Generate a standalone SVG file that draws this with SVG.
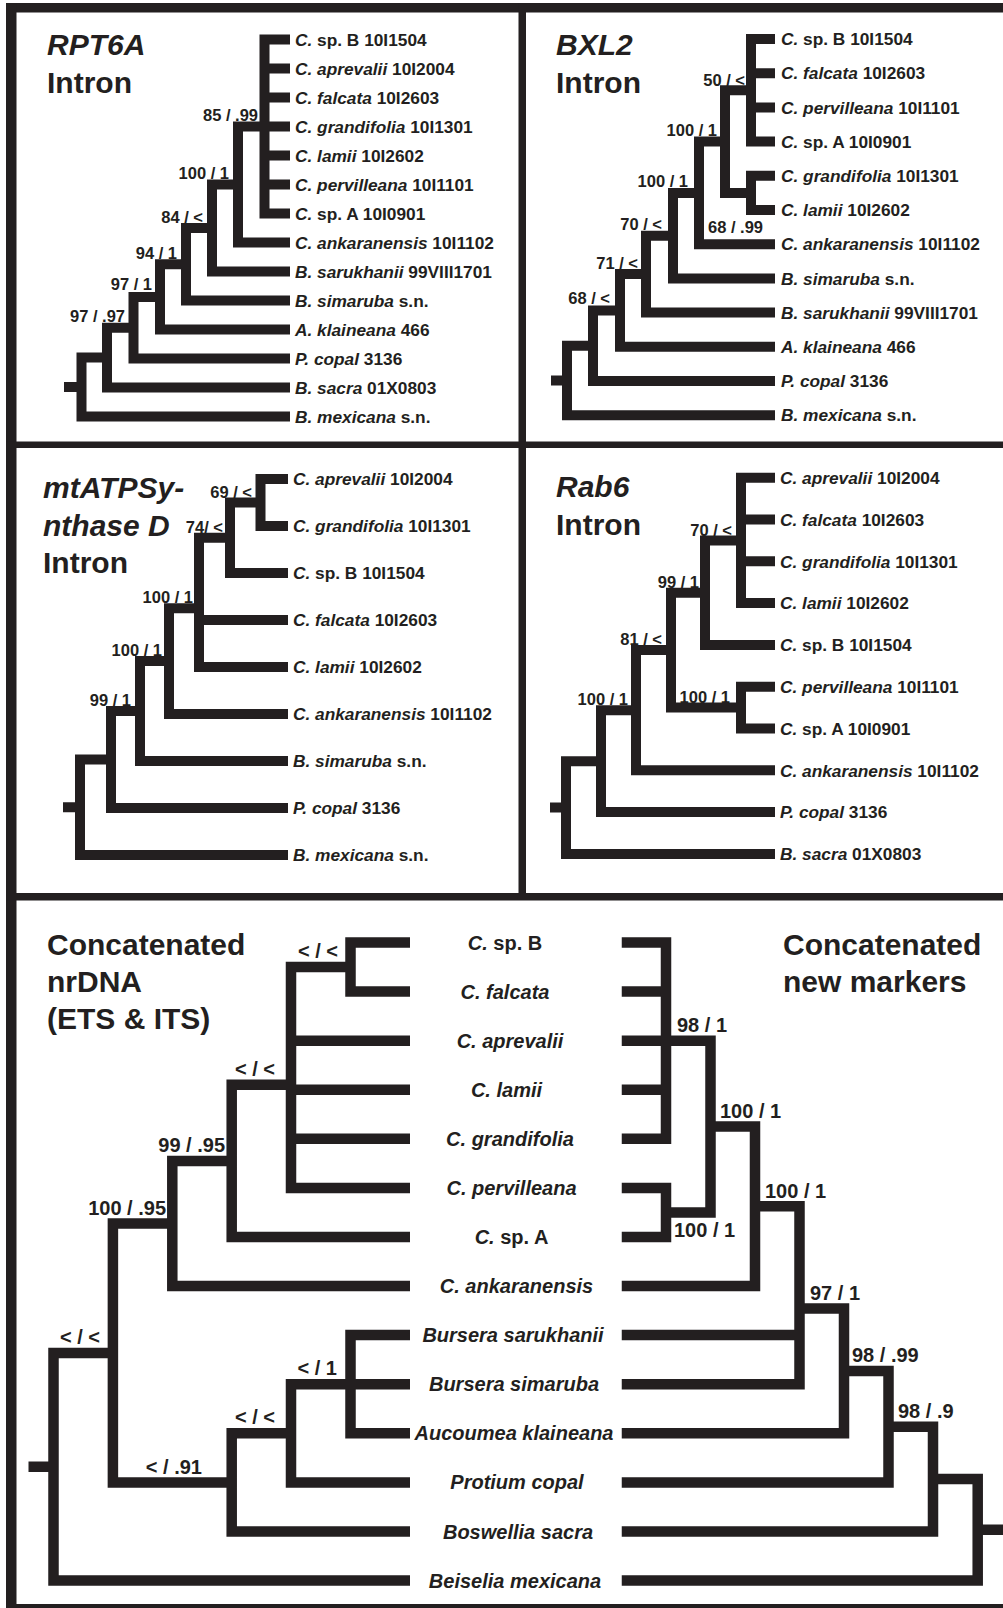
<svg xmlns="http://www.w3.org/2000/svg" width="1003" height="1608" viewBox="0 0 1003 1608">
<style>
.ln{fill:none;stroke:#231f20;stroke-width:10;stroke-linecap:square;stroke-linejoin:miter}
.lb{stroke-width:10.5}
.bd{fill:#231f20}
text{font-family:"Liberation Sans",Arial,Helvetica,sans-serif;font-weight:bold;fill:#231f20}
.tip{font-size:17.3px}
.nl{font-size:16.5px}
.ttl{font-size:30px}
.bt{font-size:20px;font-style:italic;text-anchor:middle}
.bn{font-size:20px}
.i{font-style:italic}
.r{font-style:normal}
.e{text-anchor:end}
</style>
<rect width="1003" height="1608" fill="#fff"/>
<g id="frame">
<rect class="bd" x="6" y="3" width="1000" height="9.5"/>
<rect class="bd" x="6" y="3" width="10.5" height="1610"/>
<rect class="bd" x="6" y="1604" width="1000" height="10"/>
<rect class="bd" x="518.5" y="3" width="7.5" height="895"/>
<rect class="bd" x="6" y="441.5" width="1000" height="6.5"/>
<rect class="bd" x="6" y="893" width="1000" height="7.5"/>
</g>

<g id="panel-rpt6a">
<text class="ttl i" x="47" y="55">RPT6A</text>
<text class="ttl" x="47" y="92.5">Intron</text>
<g id="rpt6a-connectors"><path class="ln" d="M264.5 39.5V213.5M264.5 39.5H285M264.5 68.5H285M264.5 97.5H285M264.5 126.5H285M264.5 155.5H285M264.5 184.5H285M264.5 213.5H285M238 126.5V242.5M238 126.5H264.5M238 242.5H285M212 184.5V271.5M212 184.5H238M212 271.5H285M186 228V300.5M186 228H212M186 300.5H285M160 264.25V329.5M160 264.25H186M160 329.5H285M133.5 296.9V358.5M133.5 296.9H160M133.5 358.5H285M107 327.7V387.5M107 327.7H133.5M107 387.5H285M81.5 357.6V416.5M81.5 357.6H107M81.5 416.5H285M69 387H81.5"/></g>
<g id="rpt6a-tips" class="tip">
<text class="tip" x="295" y="45.7"><tspan class="i">C.</tspan> sp. B 10I1504</text>
<text class="tip" x="295" y="74.7"><tspan class="i">C. aprevalii</tspan> 10I2004</text>
<text class="tip" x="295" y="103.7"><tspan class="i">C. falcata</tspan> 10I2603</text>
<text class="tip" x="295" y="132.7"><tspan class="i">C. grandifolia</tspan> 10I1301</text>
<text class="tip" x="295" y="161.7"><tspan class="i">C. lamii</tspan> 10I2602</text>
<text class="tip" x="295" y="190.7"><tspan class="i">C. pervilleana</tspan> 10I1101</text>
<text class="tip" x="295" y="219.7"><tspan class="i">C.</tspan> sp. A 10I0901</text>
<text class="tip" x="295" y="248.7"><tspan class="i">C. ankaranensis</tspan> 10I1102</text>
<text class="tip" x="295" y="277.7"><tspan class="i">B. sarukhanii</tspan> 99VIII1701</text>
<text class="tip" x="295" y="306.7"><tspan class="i">B. simaruba</tspan> s.n.</text>
<text class="tip" x="295" y="335.7"><tspan class="i">A. klaineana</tspan> 466</text>
<text class="tip" x="295" y="364.7"><tspan class="i">P. copal</tspan> 3136</text>
<text class="tip" x="295" y="393.7"><tspan class="i">B. sacra</tspan> 01X0803</text>
<text class="tip" x="295" y="422.7"><tspan class="i">B. mexicana</tspan> s.n.</text>
</g>
<g id="rpt6a-support">
<text class="nl e" x="258" y="121">85 / .99</text>
<text class="nl e" x="229" y="179">100 / 1</text>
<text class="nl e" x="203" y="222.5">84 / &lt;</text>
<text class="nl e" x="177" y="258.5">94 / 1</text>
<text class="nl e" x="152" y="290">97 / 1</text>
<text class="nl e" x="125" y="321.5">97 / .97</text>
</g>
</g>

<g id="panel-bxl2">
<text class="ttl i" x="556" y="55">BXL2</text>
<text class="ttl" x="556" y="92.5">Intron</text>
<g id="bxl2-connectors"><path class="ln" d="M751 39V141.6M751 39H770M751 73.2H770M751 107.4H770M751 141.6H770M751 175.8V210M751 175.8H770M751 210H770M725 90.3V192.9M725 90.3H751M725 192.9H751M699 141.6V244.2M699 141.6H725M699 244.2H770M673 192.9V278.4M673 192.9H699M673 278.4H770M646 235.65V312.6M646 235.65H673M646 312.6H770M620 274.1V346.8M620 274.1H646M620 346.8H770M593 310.45V381M593 310.45H620M593 381H770M567 345.7V415.2M567 345.7H593M567 415.2H770M556 380.5H567"/></g>
<g id="bxl2-tips">
<text class="tip" x="781" y="45.2"><tspan class="i">C.</tspan> sp. B 10I1504</text>
<text class="tip" x="781" y="79.4"><tspan class="i">C. falcata</tspan> 10I2603</text>
<text class="tip" x="781" y="113.6"><tspan class="i">C. pervilleana</tspan> 10I1101</text>
<text class="tip" x="781" y="147.8"><tspan class="i">C.</tspan> sp. A 10I0901</text>
<text class="tip" x="781" y="182"><tspan class="i">C. grandifolia</tspan> 10I1301</text>
<text class="tip" x="781" y="216.2"><tspan class="i">C. lamii</tspan> 10I2602</text>
<text class="tip" x="781" y="250.4"><tspan class="i">C. ankaranensis</tspan> 10I1102</text>
<text class="tip" x="781" y="284.6"><tspan class="i">B. simaruba</tspan> s.n.</text>
<text class="tip" x="781" y="318.8"><tspan class="i">B. sarukhanii</tspan> 99VIII1701</text>
<text class="tip" x="781" y="353"><tspan class="i">A. klaineana</tspan> 466</text>
<text class="tip" x="781" y="387.2"><tspan class="i">P. copal</tspan> 3136</text>
<text class="tip" x="781" y="421.4"><tspan class="i">B. mexicana</tspan> s.n.</text>
</g>
<g id="bxl2-support">
<text class="nl e" x="745" y="86">50 / &lt;</text>
<text class="nl e" x="717" y="135.5">100 / 1</text>
<text class="nl e" x="688" y="187">100 / 1</text>
<text class="nl" x="708" y="233">68 / .99</text>
<text class="nl e" x="662" y="230">70 / &lt;</text>
<text class="nl e" x="638" y="268.5">71 / &lt;</text>
<text class="nl e" x="610" y="304">68 / &lt;</text>
</g>
</g>

<g id="panel-mtatp">
<text class="ttl i" x="43" y="497.5">mtATPSy-</text>
<text class="ttl i" x="43" y="535.5">nthase D</text>
<text class="ttl" x="43" y="573">Intron</text>
<g id="mtatp-connectors"><path class="ln" d="M260.5 479V526M260.5 479H283M260.5 526H283M230 502.5V573M230 502.5H260.5M230 573H283M199 537.75V667M199 537.75H230M199 620H283M199 667H283M169 608.25V714M169 608.25H199M169 714H283M140 661.1V761M140 661.1H169M140 761H283M111 711.05V808M111 711.05H140M111 808H283M80 759.5V855M80 759.5H111M80 855H283M68 807.25H80"/></g>
<g id="mtatp-tips">
<text class="tip" x="293" y="485.2"><tspan class="i">C. aprevalii</tspan> 10I2004</text>
<text class="tip" x="293" y="532.2"><tspan class="i">C. grandifolia</tspan> 10I1301</text>
<text class="tip" x="293" y="579.2"><tspan class="i">C.</tspan> sp. B 10I1504</text>
<text class="tip" x="293" y="626.2"><tspan class="i">C. falcata</tspan> 10I2603</text>
<text class="tip" x="293" y="673.2"><tspan class="i">C. lamii</tspan> 10I2602</text>
<text class="tip" x="293" y="720.2"><tspan class="i">C. ankaranensis</tspan> 10I1102</text>
<text class="tip" x="293" y="767.2"><tspan class="i">B. simaruba</tspan> s.n.</text>
<text class="tip" x="293" y="814.2"><tspan class="i">P. copal</tspan> 3136</text>
<text class="tip" x="293" y="861.2"><tspan class="i">B. mexicana</tspan> s.n.</text>
</g>
<g id="mtatp-support">
<text class="nl e" x="252" y="497.5">69 / &lt;</text>
<text class="nl e" x="223" y="532.5">74/ &lt;</text>
<text class="nl e" x="193" y="603">100 / 1</text>
<text class="nl e" x="162" y="655.5">100 / 1</text>
<text class="nl e" x="131" y="705.5">99 / 1</text>
</g>
</g>

<g id="panel-rab6">
<text class="ttl i" x="556" y="497">Rab6</text>
<text class="ttl" x="556" y="535">Intron</text>
<g id="rab6-connectors"><path class="ln" d="M741 477.7V603.1M741 477.7H770M741 519.5H770M741 561.3H770M741 603.1H770M705 540.4V644.9M705 540.4H741M705 644.9H770M741 686.7V728.5M741 686.7H770M741 728.5H770M671 592.65V707.6M671 592.65H705M671 707.6H741M636 650.1V770.3M636 650.1H671M636 770.3H770M601 710.2V812.1M601 710.2H636M601 812.1H770M566 761.15V853.9M566 761.15H601M566 853.9H770M555 807.5H566"/></g>
<g id="rab6-tips">
<text class="tip" x="780" y="483.9"><tspan class="i">C. aprevalii</tspan> 10I2004</text>
<text class="tip" x="780" y="525.7"><tspan class="i">C. falcata</tspan> 10I2603</text>
<text class="tip" x="780" y="567.5"><tspan class="i">C. grandifolia</tspan> 10I1301</text>
<text class="tip" x="780" y="609.3"><tspan class="i">C. lamii</tspan> 10I2602</text>
<text class="tip" x="780" y="651.1"><tspan class="i">C.</tspan> sp. B 10I1504</text>
<text class="tip" x="780" y="692.9"><tspan class="i">C. pervilleana</tspan> 10I1101</text>
<text class="tip" x="780" y="734.7"><tspan class="i">C.</tspan> sp. A 10I0901</text>
<text class="tip" x="780" y="776.5"><tspan class="i">C. ankaranensis</tspan> 10I1102</text>
<text class="tip" x="780" y="818.3"><tspan class="i">P. copal</tspan> 3136</text>
<text class="tip" x="780" y="860.1"><tspan class="i">B. sacra</tspan> 01X0803</text>
</g>
<g id="rab6-support">
<text class="nl e" x="732" y="535.5">70 / &lt;</text>
<text class="nl e" x="699" y="588">99 / 1</text>
<text class="nl e" x="730" y="703">100 / 1</text>
<text class="nl e" x="662" y="644.5">81 / &lt;</text>
<text class="nl e" x="628" y="704.5">100 / 1</text>
</g>
</g>

<g id="panel-concatenated">
<text class="ttl" x="47" y="955">Concatenated</text>
<text class="ttl" x="47" y="992">nrDNA</text>
<text class="ttl" x="47" y="1029">(ETS &amp; ITS)</text>
<text class="ttl" x="783" y="955">Concatenated</text>
<text class="ttl" x="783" y="992">new markers</text>
<g id="nrdna-connectors"><path class="ln lb" d="M350.5 942.5V991.6M350.5 942.5H404.75M350.5 991.6H404.75M291 967.05V1187.9M291 967.05H350.5M291 1040.7H404.75M291 1089.7H404.75M291 1138.8H404.75M291 1187.9H404.75M231.7 1084.8V1237M231.7 1084.8H291M231.7 1237H404.75M172.3 1160.9V1286.1M172.3 1160.9H231.7M172.3 1286.1H404.75M350.5 1335.1V1433.3M350.5 1335.1H404.75M350.5 1384.2H404.75M350.5 1433.3H404.75M291 1384.2V1482.4M291 1384.2H350.5M291 1482.4H404.75M231.7 1433.3V1531.5M231.7 1433.3H291M231.7 1531.5H404.75M112.9 1223.5V1482.4M112.9 1223.5H172.3M112.9 1482.4H231.7M53.5 1352.95V1580.5M53.5 1352.95H112.9M53.5 1580.5H404.75M33.75 1466.7H53.5"/></g>
<g id="markers-connectors"><path class="ln lb" d="M666 942.5V1138.8M627 942.5H666M627 991.6H666M627 1040.7H666M627 1089.7H666M627 1138.8H666M666 1187.9V1237M627 1187.9H666M627 1237H666M710.5 1040.7V1212.45M666 1040.7H710.5M666 1212.45H710.5M755 1126.6V1286.1M710.5 1126.6H755M627 1286.1H755M799.5 1206.35V1384.2M755 1206.35H799.5M627 1335.1H799.5M627 1384.2H799.5M844 1308.55V1433.3M799.5 1308.55H844M627 1433.3H844M888.5 1370.9V1482.4M844 1370.9H888.5M627 1482.4H888.5M933 1426.65V1531.5M888.5 1426.65H933M627 1531.5H933M977.7 1479.1V1580.5M933 1479.1H977.7M627 1580.5H977.7M977.7 1529.8H1010"/></g>
<g id="concat-tips">
<text class="bt" x="505" y="949.5">C.<tspan class="r"> sp. B</tspan></text>
<text class="bt" x="505" y="998.6">C. falcata</text>
<text class="bt" x="510" y="1047.7">C. aprevalii</text>
<text class="bt" x="506.5" y="1096.7">C. lamii</text>
<text class="bt" x="510" y="1145.8">C. grandifolia</text>
<text class="bt" x="511.5" y="1194.9">C. pervilleana</text>
<text class="bt" x="511.5" y="1244">C.<tspan class="r"> sp. A</tspan></text>
<text class="bt" x="516.5" y="1293.1">C. ankaranensis</text>
<text class="bt" x="513" y="1342.1">Bursera sarukhanii</text>
<text class="bt" x="514" y="1391.2">Bursera simaruba</text>
<text class="bt" x="514" y="1440.3">Aucoumea klaineana</text>
<text class="bt" x="517" y="1489.4">Protium copal</text>
<text class="bt" x="518" y="1538.5">Boswellia sacra</text>
<text class="bt" x="515" y="1587.5">Beiselia mexicana</text>
</g>
<g id="nrdna-support">
<text class="bn e" x="338" y="958">&lt; / &lt;</text>
<text class="bn e" x="275" y="1076">&lt; / &lt;</text>
<text class="bn e" x="225" y="1152">99 / .95</text>
<text class="bn e" x="166" y="1214.5">100 / .95</text>
<text class="bn e" x="100" y="1344">&lt; / &lt;</text>
<text class="bn e" x="337" y="1375">&lt; / 1</text>
<text class="bn e" x="275" y="1424">&lt; / &lt;</text>
<text class="bn e" x="202" y="1473.5">&lt; / .91</text>
</g>
<g id="markers-support">
<text class="bn" x="677" y="1032">98 / 1</text>
<text class="bn" x="720" y="1118">100 / 1</text>
<text class="bn" x="765" y="1197.5">100 / 1</text>
<text class="bn" x="674" y="1237">100 / 1</text>
<text class="bn" x="810" y="1300">97 / 1</text>
<text class="bn" x="852" y="1362">98 / .99</text>
<text class="bn" x="898" y="1418">98 / .9</text>
</g>
</g>
</svg>
